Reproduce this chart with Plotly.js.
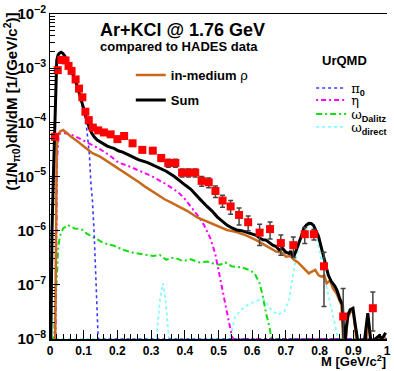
<!DOCTYPE html>
<html>
<head>
<meta charset="utf-8">
<script src="https://cdn.plot.ly/plotly-3.0.1.min.js"></script>
<style>html,body{margin:0;padding:0;background:#fff;}#plot{width:394px;height:371px;}</style>
</head>
<body>
<div id="plot"></div>
<script>
// HADES data points
const dataMass = [0.0146,0.023,0.0335,0.046,0.055,0.064,0.076,0.086,0.096,0.105,0.115,0.127,0.143,0.160,0.180,0.200,0.220,0.245,0.274,0.305,0.330,0.351,0.372,0.392,0.411,0.431,0.450,0.471,0.491,0.512,0.536,0.561,0.588,0.622,0.653,0.685,0.722,0.756,0.783,0.813,0.870,0.958];
const dataYield = [5.4e-5,9.2e-4,1.42e-3,1.39e-3,1.10e-3,8.9e-4,6.2e-4,4.2e-4,2.9e-4,1.57e-4,1.10e-4,8.0e-5,7.1e-5,6.5e-5,6.0e-5,4.9e-5,5.6e-5,4.1e-5,3.1e-5,3.0e-5,2.2e-5,1.78e-5,1.78e-5,1.18e-5,1.18e-5,1.18e-5,8.3e-6,7.8e-6,5.4e-6,3.6e-6,2.8e-6,1.95e-6,1.43e-6,9.2e-7,1.07e-6,5.9e-7,5.4e-7,8.6e-7,8.6e-7,2.2e-7,2.6e-8,3.7e-8];
const dataErrUp = [2.7e-6,4.6e-5,5e-5,5e-5,4e-5,3e-5,2e-5,1.5e-5,1e-5,6e-6,4e-6,3e-6,3e-6,3e-6,3e-6,3e-6,4e-6,4e-6,3e-6,3e-6,3e-6,3e-6,3e-6,2e-6,2e-6,2e-6,1.7e-6,1.6e-6,1.3e-6,9e-7,8e-7,6.8e-7,4.3e-7,3.9e-7,3.7e-7,2.4e-7,2.2e-7,2.8e-7,1.9e-7,1.8e-7,6e-8,3.7e-8];
const dataErrDown = [2.7e-6,4.6e-5,5e-5,5e-5,4e-5,3e-5,2e-5,1.5e-5,1e-5,6e-6,4e-6,3e-6,3e-6,3e-6,3e-6,3e-6,4e-6,4e-6,3e-6,3e-6,3e-6,3e-6,3e-6,2e-6,2e-6,2e-6,1.7e-6,1.6e-6,1.3e-6,9e-7,8e-7,6.8e-7,4.3e-7,3.9e-7,3.7e-7,2.4e-7,2.2e-7,2.8e-7,1.9e-7,1.8e-7,2.6e-8,2.3e-8];

// UrQMD curves
const sumMass = [0.002,0.006,0.010,0.014,0.0175,0.020,0.024,0.028,0.033,0.038,0.044,0.050,0.058,0.065,0.073,0.080,0.087,0.092,0.097,0.102,0.107,0.112,0.117,0.124,0.131,0.140,0.150,0.160,0.170,0.180,0.190,0.204,0.214,0.233,0.262,0.290,0.321,0.345,0.369,0.385,0.403,0.418,0.428,0.437,0.447,0.466,0.481,0.496,0.510,0.525,0.540,0.554,0.568,0.583,0.597,0.612,0.622,0.632,0.641,0.651,0.661,0.671,0.680,0.690,0.700,0.709,0.714,0.719,0.724,0.732,0.739,0.746,0.753,0.760,0.768,0.775,0.782,0.790,0.797,0.804,0.811,0.818,0.826,0.835,0.845,0.852,0.860,0.868,0.874,0.879,0.884,0.891,0.899,0.906,0.913,0.920,0.928,0.936,0.943,0.950,0.957,0.965,0.977,0.985,0.996];
const sumYield = [5e-9,1e-6,1e-5,6e-5,7e-4,1.4e-3,1.75e-3,1.9e-3,1.97e-3,1.88e-3,1.68e-3,1.4e-3,1.06e-3,8.3e-4,6.5e-4,4.8e-4,3.43e-4,2.7e-4,2.09e-4,1.6e-4,1.19e-4,9.5e-5,7.76e-5,6.3e-5,5.4e-5,4.7e-5,4.3e-5,4.0e-5,3.65e-5,3.45e-5,3.3e-5,2.95e-5,2.85e-5,2.5e-5,2.05e-5,1.8e-5,1.45e-5,1.25e-5,1.0e-5,8.2e-6,6.8e-6,5.8e-6,4.9e-6,4.3e-6,3.7e-6,2.8e-6,2.3e-6,1.8e-6,1.5e-6,1.27e-6,1.12e-6,1.03e-6,1.0e-6,9.4e-7,8.8e-7,8.2e-7,7.3e-7,6.8e-7,6.7e-7,5.9e-7,5.4e-7,5.1e-7,4.4e-7,4.7e-7,4.0e-7,3.8e-7,4.2e-7,3.5e-7,3.4e-7,4.6e-7,5.9e-7,8.0e-7,1.1e-6,1.26e-6,1.37e-6,1.36e-6,1.25e-6,1.0e-6,7.8e-7,5.2e-7,3.5e-7,2.2e-7,1.5e-7,1.15e-7,9.5e-8,7.8e-8,5.5e-8,4.3e-8,5e-9,1.6e-8,2.8e-8,3.5e-8,3.7e-8,1.8e-8,1.0e-8,5e-9,5e-9,1.5e-8,3.0e-8,1.2e-8,5e-9,1.0e-8,1.15e-8,1.0e-8,1.3e-8];

const rhoMass = [0.015,0.018,0.020,0.024,0.030,0.039,0.048,0.056,0.063,0.073,0.083,0.095,0.107,0.126,0.150,0.180,0.204,0.225,0.243,0.262,0.282,0.300,0.321,0.340,0.360,0.379,0.408,0.437,0.466,0.496,0.525,0.554,0.583,0.612,0.641,0.671,0.690,0.700,0.714,0.724,0.736,0.748,0.758,0.768,0.777,0.787,0.797,0.807,0.814,0.821,0.831,0.840,0.850,0.858,0.865,0.872,0.879,0.884,0.891,0.899,0.906,0.913,0.936,0.943,0.950,0.957,0.977,0.996];
const rhoYield = [5e-9,1e-6,3.5e-5,5.8e-5,6.8e-5,7.2e-5,6.6e-5,5.9e-5,5.4e-5,4.9e-5,4.4e-5,3.8e-5,3.3e-5,2.69e-5,2.3e-5,1.75e-5,1.4e-5,1.15e-5,9.7e-6,8e-6,6.5e-6,5.5e-6,4.4e-6,3.8e-6,3.3e-6,2.9e-6,2.3e-6,1.75e-6,1.47e-6,1.2e-6,1.03e-6,9.4e-7,8.1e-7,6.7e-7,5.3e-7,4.1e-7,3.9e-7,3.3e-7,3.4e-7,2.9e-7,2.6e-7,2.16e-7,1.9e-7,1.63e-7,1.75e-7,1.88e-7,1.5e-7,1.41e-7,1.5e-7,1.07e-7,1.2e-7,8.5e-8,7e-8,5.5e-8,4.2e-8,5e-9,1.4e-8,2.5e-8,3.1e-8,3.3e-8,1.5e-8,5e-9,5e-9,2.6e-8,1e-8,5e-9,1.0e-8,1.1e-8];

const pi0Mass = [0.002,0.006,0.010,0.014,0.0175,0.020,0.024,0.028,0.033,0.038,0.044,0.050,0.058,0.065,0.073,0.080,0.087,0.092,0.097,0.102,0.107,0.112,0.117,0.121,0.126,0.131,0.136,0.141,0.143,1.0];
const pi0Yield = [5e-9,1e-6,1e-5,6e-5,6.8e-4,1.35e-3,1.7e-3,1.85e-3,1.92e-3,1.83e-3,1.62e-3,1.35e-3,1.02e-3,7.9e-4,6.1e-4,4.5e-4,3.2e-4,2.5e-4,1.9e-4,1.4e-4,1.0e-4,5.4e-5,2.5e-5,8e-6,3.5e-6,9e-7,1.1e-7,1.3e-8,1e-8,1e-8];

const etaMass = [0.016,0.019,0.021,0.025,0.030,0.040,0.049,0.060,0.078,0.095,0.117,0.145,0.175,0.204,0.233,0.262,0.301,0.340,0.379,0.398,0.418,0.437,0.457,0.476,0.490,0.500,0.515,0.530,0.540,0.545,1.0];
const etaYield = [5e-9,1e-6,2e-5,5e-5,6.2e-5,6.4e-5,6.3e-5,6.0e-5,5.4e-5,4.8e-5,4.1e-5,3.3e-5,2.5e-5,1.8e-5,1.56e-5,1.32e-5,1.02e-5,7.5e-6,5.2e-6,4.0e-6,2.8e-6,1.95e-6,1.27e-6,7.2e-7,3.8e-7,1.8e-7,6e-8,2.2e-8,1.1e-8,1e-8,1e-8];

const omDalMass = [0.0,0.010,0.0125,0.0146,0.0195,0.024,0.029,0.039,0.053,0.063,0.073,0.085,0.097,0.107,0.117,0.136,0.160,0.190,0.219,0.248,0.277,0.306,0.326,0.345,0.360,0.374,0.394,0.418,0.442,0.466,0.491,0.505,0.520,0.539,0.569,0.593,0.607,0.622,0.632,0.641,0.651,0.656,0.660,1.0];
const omDalYield = [1e-8,1e-8,1.2e-8,3.5e-8,1.07e-7,4.4e-7,7.8e-7,1.1e-6,1.27e-6,1.2e-6,1.1e-6,1.08e-6,1.03e-6,9e-7,8.3e-7,6.9e-7,5.85e-7,5.25e-7,4.4e-7,3.9e-7,3.7e-7,3.4e-7,3.55e-7,2.9e-7,3.15e-7,3.1e-7,2.76e-7,2.95e-7,2.6e-7,2.7e-7,2.4e-7,2.35e-7,2.6e-7,2.2e-7,2.1e-7,1.86e-7,1.63e-7,1.07e-7,6e-8,3e-8,1.7e-8,1.1e-8,1e-8,1e-8];

const omDirMass = [0.0,0.316,0.326,0.335,0.343,0.353,0.534,0.549,0.578,0.607,0.632,0.656,0.675,0.695,0.709,0.719,0.729,0.743,0.758,0.768,0.773,0.780,0.787,0.802,0.816,0.831,0.845,0.855,1.0];
const omDirYield = [1e-8,1e-8,5.2e-8,1.07e-7,5.2e-8,1e-8,1e-8,2.6e-8,4e-8,4.9e-8,5.6e-8,3.5e-8,2.8e-8,3.2e-8,5.2e-8,1.23e-7,2.9e-7,6.8e-7,1.03e-6,1.25e-6,1.27e-6,1.15e-6,8.9e-7,3.8e-7,1.23e-7,4.6e-8,1.9e-8,1e-8,1e-8];

const greek = s => '<span style="font-family:\'DejaVu Serif\';font-weight:normal">' + s + '</span>';
const legendNames = {
  rho: 'in-medium ' + greek('ρ'),
  sum: 'Sum',
  pi0: greek('π') + '<sub>0</sub>',
  eta: greek('η'),
  omD: greek('ω') + '<sub>Dalitz</sub>',
  omDir: greek('ω') + '<sub>direct</sub>'
};

const FONT = 'Liberation Sans, Arial, sans-serif';

const traces = [
  {x: omDirMass, y: omDirYield, mode:'lines', name: legendNames.omDir, legend:'legend6',
   line:{color:'#80ffff', width:1.8, dash:'dot'}},
  {x: omDalMass, y: omDalYield, mode:'lines', name: legendNames.omD, legend:'legend5',
   line:{color:'#11dd11', width:2, dash:'6px,3px,2px,3px'}},
  {x: etaMass, y: etaYield, mode:'lines', name: legendNames.eta, legend:'legend4',
   line:{color:'#ff00ff', width:2, dash:'2px,3px,5px,3px'}},
  {x: pi0Mass, y: pi0Yield, mode:'lines', name: legendNames.pi0, legend:'legend3',
   line:{color:'#3a3aff', width:1.6, dash:'dot'}},
  {x: rhoMass, y: rhoYield, mode:'lines', name: legendNames.rho, legend:'legend',
   line:{color:'#c8691c', width:2.5}},
  {x: sumMass, y: sumYield, mode:'lines', name: legendNames.sum, legend:'legend2',
   line:{color:'#000000', width:3}},
  {x: dataMass, y: dataYield, mode:'markers', name:'HADES', showlegend:false,
   marker:{symbol:'square', size:8, color:'#ff0000'},
   error_y:{type:'data', symmetric:false, array: dataErrUp, arrayminus: dataErrDown,
            color:'#444', thickness:1.5, width:2.5}}
];

const L = 50, R = 2, T = 14, B = 32, W = 394, H = 371;
const pw = W - L - R, ph = H - T - B;
const px2x = p => (p - L) / pw;
const py2y = p => 1 - (p - T) / ph;

function leg(pxLeft, pyMid, size) {
  return {x: px2x(pxLeft), y: py2y(pyMid), xanchor:'left', yanchor:'middle',
          bgcolor:'rgba(0,0,0,0)', borderwidth:0, itemwidth:30,
          font:{family:FONT, size:size, color:'#000', weight:'bold'}};
}

const layout = {
  width: W, height: H,
  margin:{l:L, r:R, t:T, b:B, pad:0},
  paper_bgcolor:'#fff', plot_bgcolor:'#fff',
  showlegend:true,
  xaxis:{range:[0,1], tickmode:'linear', tick0:0, dtick:0.1,
         ticks:'inside', ticklen:9, tickwidth:1, tickcolor:'#000',
         minor:{ticks:'inside', ticklen:5, dtick:0.02, tickcolor:'#000', showgrid:false},
         showline:true, linecolor:'#000', linewidth:1.5, mirror:true,
         showgrid:false, zeroline:false,
         tickfont:{family:FONT, size:12, color:'#000', weight:'bold'}},
  yaxis:{type:'log', range:[-8,-2], tickmode:'linear', tick0:0, dtick:1,
         exponentformat:'power', showexponent:'all',
         ticks:'inside', ticklen:10, tickwidth:1, tickcolor:'#000',
         minor:{ticks:'inside', ticklen:5, dtick:'D1', tickcolor:'#000', showgrid:false},
         showline:true, linecolor:'#000', linewidth:1.5, mirror:false,
         showgrid:false, zeroline:false,
         tickfont:{family:FONT, size:12, color:'#000', weight:'bold'}},
  legend: leg(132, 75, 13),
  legend2: leg(132, 100, 13),
  legend3: leg(315, 88, 13),
  legend4: leg(315, 100, 13),
  legend5: leg(315, 114, 13),
  legend6: leg(315, 127, 13),
  annotations:[
    {text:'Ar+KCl @ 1.76 GeV', xref:'paper', yref:'paper', x:px2x(99), y:py2y(30),
     xanchor:'left', yanchor:'middle', showarrow:false,
     font:{family:FONT, size:18, color:'#000', weight:'bold'}},
    {text:'compared to HADES data', xref:'paper', yref:'paper', x:px2x(99), y:py2y(46),
     xanchor:'left', yanchor:'middle', showarrow:false,
     font:{family:FONT, size:13, color:'#000', weight:'bold'}},
    {text:'UrQMD', xref:'paper', yref:'paper', x:px2x(324), y:py2y(61),
     xanchor:'left', yanchor:'middle', showarrow:false,
     font:{family:FONT, size:13, color:'#000', weight:'bold'}},
    {text:'M [GeV/c<sup>2</sup>]', xref:'paper', yref:'paper', x:px2x(393), y:py2y(361),
     xanchor:'right', yanchor:'middle', showarrow:false,
     font:{family:FONT, size:13, color:'#000', weight:'bold'}},
    {text:'(1/N<sub>π0</sub>)dN/dM [1/(GeV/c<sup>2</sup>)]', xref:'paper', yref:'paper',
     x:px2x(10), y:py2y(11), xanchor:'center', yanchor:'top', textangle:-90, showarrow:false,
     font:{family:FONT, size:15, color:'#000', weight:'bold'}}
  ]
};

Plotly.newPlot('plot', traces, layout, {staticPlot:true, displayModeBar:false});
</script>
</body>
</html>
